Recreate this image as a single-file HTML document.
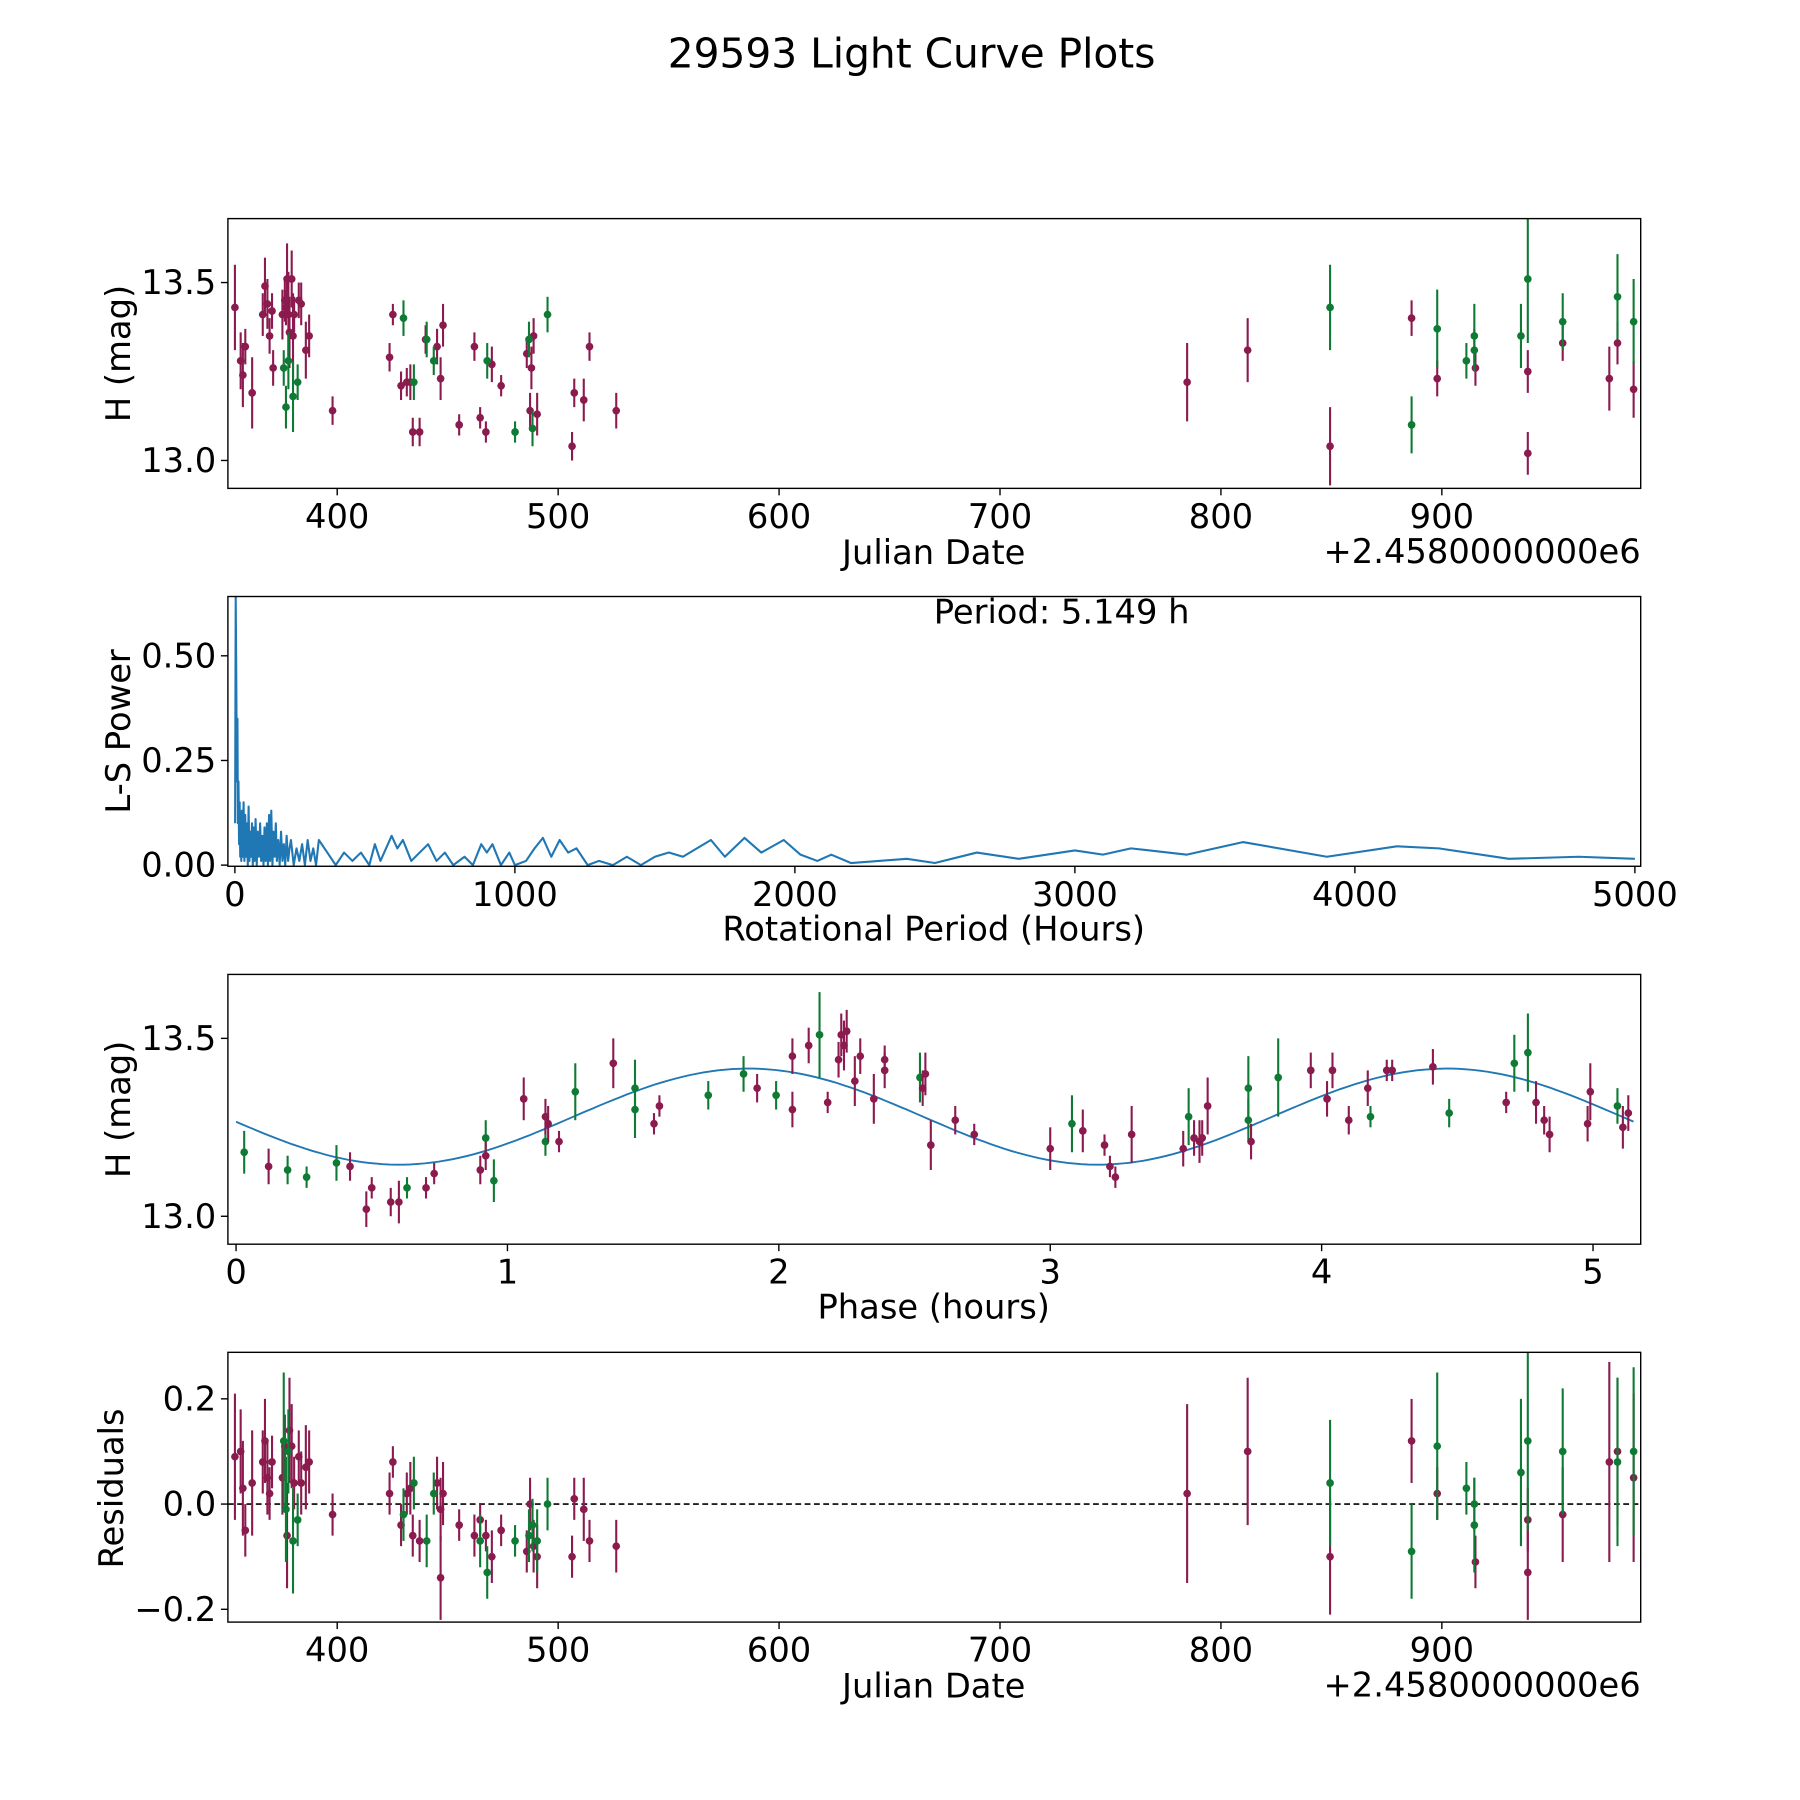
<!DOCTYPE html>
<html><head><meta charset="utf-8"><style>
html,body{margin:0;padding:0;background:#fff}
svg{display:block;font-family:"DejaVu Sans","Liberation Sans",sans-serif}
</style></head><body>
<svg id="fig" width="1800" height="1800" viewBox="0 0 1548 1548" xmlns="http://www.w3.org/2000/svg">
<rect width="1548" height="1548" fill="#fff"/>
<text x="784" y="58" font-size="35" text-anchor="middle">29593 Light Curve Plots</text>
</svg>
<script>
// ---------- Panel 1: light curve ----------
const lcDates=[353.7,356.3,357.3,358.4,361.5,366.3,367.3,368.4,369.4,370.5,371.0,375.2,376.3,376.8,377.3,377.9,378.4,379.4,380.0,380.5,382.6,383.7,385.8,387.3,397.9,
375.8,376.8,377.9,380.0,382.1,
423.7,425.2,428.9,431.5,433.1,434.2,437.3,440.0,445.2,446.8,447.9,455.2,462.1,464.7,467.3,470.0,474.2,485.8,487.3,487.9,488.9,490.5,506.3,507.3,511.6,514.2,526.3,
430.0,434.7,440.5,443.7,467.9,480.5,486.8,488.4,495.2,
784.7,812.1,849.4,886.3,897.9,915.2,938.9,938.9,954.7,975.8,979.5,986.8,
849.4,886.3,897.9,911.1,914.7,914.7,935.8,938.9,954.7,979.5,986.8];
const lcMags=[13.43,13.28,13.24,13.32,13.19,13.41,13.49,13.44,13.35,13.42,13.26,13.41,13.45,13.43,13.51,13.41,13.36,13.51,13.35,13.41,13.45,13.44,13.31,13.35,13.14,
13.26,13.15,13.28,13.18,13.22,
13.29,13.41,13.21,13.22,13.22,13.08,13.08,13.34,13.32,13.23,13.38,13.10,13.32,13.12,13.08,13.27,13.21,13.30,13.14,13.26,13.35,13.13,13.04,13.19,13.17,13.32,13.14,
13.40,13.22,13.34,13.28,13.28,13.08,13.34,13.09,13.41,
13.22,13.31,13.04,13.40,13.23,13.26,13.25,13.02,13.33,13.23,13.33,13.20,
13.43,13.10,13.37,13.28,13.31,13.35,13.35,13.51,13.39,13.46,13.39];
const lcErrs=[0.12,0.08,0.09,0.05,0.1,0.06,0.08,0.07,0.05,0.05,0.05,0.07,0.06,0.05,0.1,0.12,0.1,0.08,0.12,0.05,0.05,0.06,0.08,0.06,0.04,
0.05,0.06,0.08,0.1,0.05,
0.04,0.03,0.04,0.04,0.05,0.04,0.04,0.04,0.05,0.06,0.06,0.03,0.04,0.03,0.03,0.05,0.03,0.04,0.05,0.06,0.05,0.06,0.04,0.04,0.06,0.04,0.05,
0.05,0.05,0.05,0.04,0.05,0.03,0.05,0.05,0.05,
0.11,0.09,0.11,0.05,0.05,0.05,0.06,0.06,0.05,0.09,0.06,0.08,
0.12,0.08,0.11,0.05,0.06,0.09,0.09,0.18,0.08,0.12,0.12];
const lcColors=("p".repeat(25)+"g".repeat(5)+"p".repeat(27)+"g".repeat(9)+"p".repeat(12)+"g".repeat(11)).split("");
// ---------- Panel 2: periodogram ----------
const lsPeriods=[1,3,5,7,9,11,13,15,17,19,21,23,25,
28,31,34,37,40,43,46,49,52,55,58,61,64,67,70,
74,78,82,86,90,94,98,102,106,110,114,118,122,126,130,134,138,142,146,150,
155,160,165,170,175,180,185,190,195,200,
210,220,230,240,250,260,270,280,290,300,
330,360,390,420,450,480,500,520,560,580,600,630,660,690,720,750,780,820,850,880,900,920,950,980,1000,1040,1070,1100,1130,1160,1190,1220,1260,1300,1350,1400,1450,1500,1550,1600,1650,1700,1750,1820,1880,1960,2020,2080,2130,2200,2300,2400,2500,2650,2800,3000,3100,3200,3400,3600,3900,4150,4300,4550,4800,5000];
const lsPower=[0.1,0.64,0.45,0.2,0.35,0.1,0.2,0.05,0.15,0.02,0.1,0.01,0.13,
0.02,0.15,0.01,0.12,0.02,0.1,0.0,0.14,0.01,0.08,0.02,0.1,0.0,0.09,0.01,
0.11,0.0,0.08,0.02,0.1,0.01,0.07,0.0,0.09,0.01,0.1,0.0,0.12,0.01,0.13,0.0,0.08,0.02,0.1,0.01,
0.06,0.0,0.08,0.01,0.05,0.0,0.07,0.01,0.04,0.06,
0.0,0.04,0.01,0.05,0.0,0.06,0.01,0.04,0.0,0.06,
0.03,0.0,0.03,0.01,0.03,0.0,0.05,0.01,0.07,0.04,0.06,0.01,0.03,0.05,0.01,0.03,0.0,0.02,0.0,0.05,0.03,0.05,0.0,0.03,0.0,0.01,0.04,0.065,0.02,0.06,0.03,0.04,0.0,0.01,0.0,0.02,0.0,0.02,0.03,0.02,0.04,0.06,0.02,0.065,0.03,0.06,0.025,0.01,0.025,0.005,0.01,0.015,0.005,0.03,0.015,0.035,0.025,0.04,0.025,0.055,0.02,0.045,0.04,0.015,0.02,0.015];
const lsTicksX=[0,1000,2000,3000,4000,5000];
const lsTicksY=[0,0.25,0.5];
// ---------- Panel 3: phased ----------
const phPhase=[0.03,0.19,0.26,0.37,0.63,0.92,0.95,1.14,1.25,1.47,1.47,1.74,1.87,1.99,2.15,2.52,3.08,3.51,3.73,3.73,3.84,4.18,4.47,4.71,4.76,5.09,
0.12,0.42,0.48,0.50,0.57,0.60,0.70,0.73,0.90,0.92,1.06,1.14,1.15,1.19,1.39,1.54,1.56,1.92,2.05,2.05,2.11,2.18,2.22,2.23,2.24,2.25,2.28,2.30,2.35,2.39,2.39,2.53,2.54,2.56,2.65,2.72,3.00,3.12,3.20,3.22,3.24,3.30,3.49,3.53,3.55,3.56,3.58,3.74,3.96,4.02,4.04,4.10,4.17,4.24,4.26,4.41,4.68,4.79,4.82,4.84,4.98,4.99,5.11,5.13];
const phMags=[13.18,13.13,13.11,13.15,13.08,13.22,13.10,13.21,13.35,13.30,13.36,13.34,13.40,13.34,13.51,13.39,13.26,13.28,13.36,13.27,13.39,13.28,13.29,13.43,13.46,13.31,
13.14,13.14,13.02,13.08,13.04,13.04,13.08,13.12,13.13,13.17,13.33,13.28,13.26,13.21,13.43,13.26,13.31,13.36,13.45,13.30,13.48,13.32,13.44,13.51,13.48,13.52,13.38,13.45,13.33,13.44,13.41,13.36,13.40,13.20,13.27,13.23,13.19,13.24,13.20,13.14,13.11,13.23,13.19,13.22,13.21,13.22,13.31,13.21,13.41,13.33,13.41,13.27,13.36,13.41,13.41,13.42,13.32,13.32,13.27,13.23,13.26,13.35,13.25,13.29];
const phErrs=[0.06,0.04,0.03,0.05,0.03,0.05,0.06,0.04,0.08,0.08,0.08,0.04,0.05,0.04,0.12,0.07,0.08,0.08,0.09,0.06,0.11,0.03,0.04,0.08,0.11,0.05,
0.05,0.04,0.05,0.03,0.04,0.06,0.03,0.03,0.04,0.04,0.06,0.05,0.05,0.03,0.07,0.03,0.03,0.04,0.05,0.05,0.05,0.03,0.05,0.06,0.07,0.06,0.07,0.05,0.07,0.04,0.05,0.05,0.06,0.07,0.04,0.03,0.06,0.06,0.03,0.03,0.03,0.08,0.05,0.05,0.06,0.05,0.08,0.05,0.05,0.05,0.05,0.04,0.05,0.03,0.03,0.05,0.03,0.06,0.04,0.05,0.05,0.08,0.06,0.05];
const phColors=("g".repeat(26)+"p".repeat(64)).split("");
const fitMean=13.28, fitAmp=0.135, fitMinPhase=0.6, fitHalfPeriod=2.575;
// ---------- Panel 4: residuals ----------
const resDates=[353.7,356.3,357.3,358.4,361.5,366.3,367.3,368.4,369.4,370.5,375.2,376.3,377.3,378.4,379.4,380.5,382.6,383.7,385.8,387.3,397.9,
375.8,376.8,377.9,380.0,382.1,
423.7,425.2,428.9,431.5,433.1,434.2,437.3,445.2,446.8,447.9,455.2,462.1,464.7,467.3,470.0,474.2,485.8,487.3,488.9,490.5,506.3,507.3,511.6,514.2,526.3,446.8,
430.0,434.7,440.5,443.7,464.7,467.9,480.5,486.8,488.4,490.5,495.2,
784.7,812.1,849.4,886.3,897.9,915.2,938.9,938.9,954.7,975.8,979.5,986.8,
849.4,886.3,897.9,911.1,914.7,914.7,935.8,938.9,954.7,979.5,986.8];
const resVals=[0.09,0.10,0.03,-0.05,0.04,0.08,0.12,0.05,0.02,0.08,0.05,0.11,-0.06,0.14,0.11,0.04,0.09,0.04,0.07,0.08,-0.02,
0.12,-0.01,0.10,-0.07,-0.03,
0.02,0.08,-0.04,0.02,0.03,-0.06,-0.07,0.04,-0.01,0.02,-0.04,-0.06,-0.03,-0.06,-0.10,-0.05,-0.09,0.00,-0.08,-0.10,-0.10,0.01,-0.01,-0.07,-0.08,-0.14,
-0.02,0.04,-0.07,0.02,-0.07,-0.13,-0.07,-0.06,-0.04,-0.07,0.00,
0.02,0.10,-0.10,0.12,0.02,-0.11,-0.03,-0.13,-0.02,0.08,0.10,0.05,
0.04,-0.09,0.11,0.03,0.00,-0.04,0.06,0.12,0.10,0.08,0.10];
const resErrs=[0.12,0.08,0.09,0.05,0.1,0.06,0.08,0.07,0.05,0.05,0.07,0.06,0.1,0.1,0.08,0.05,0.05,0.06,0.08,0.06,0.04,
0.13,0.1,0.08,0.1,0.05,
0.04,0.03,0.04,0.04,0.05,0.04,0.04,0.05,0.06,0.06,0.03,0.04,0.03,0.03,0.05,0.03,0.04,0.05,0.05,0.06,0.04,0.04,0.06,0.04,0.05,0.08,
0.05,0.05,0.05,0.04,0.05,0.05,0.03,0.05,0.05,0.06,0.05,
0.17,0.14,0.11,0.08,0.05,0.05,0.06,0.09,0.09,0.19,0.14,0.16,
0.12,0.09,0.14,0.05,0.05,0.09,0.14,0.17,0.12,0.16,0.16];
const resColors=("p".repeat(21)+"g".repeat(5)+"p".repeat(26)+"g".repeat(11)+"p".repeat(12)+"g".repeat(11)).split("");
const jdTicks=[400,500,600,700,800,900];

const NS="http://www.w3.org/2000/svg";
const svg=document.getElementById("fig");
const COL={p:"#8b1a4e",g:"#0e7a33"};
const TF=29, LF=29;
function el(tag,attrs,parent){const e=document.createElementNS(NS,tag);for(const k in attrs)e.setAttribute(k,attrs[k]);(parent||svg).appendChild(e);return e;}
function lin(d0,d1,r0,r1){return v=>r0+(v-d0)*(r1-r0)/(d1-d0);}
function frame(name,x0,y0,x1,y1){const r=el("rect",{x:x0,y:y0,width:x1-x0,height:y1-y0,fill:"none",stroke:"#000","stroke-width":1.2});}
function xticks(name,vals,sx,yb,fmt){vals.forEach(v=>{const x=sx(v);el("line",{x1:x,x2:x,y1:yb,y2:yb+6,stroke:"#000","stroke-width":1.2});const t=el("text",{x:x,y:yb+34,"font-size":TF,"text-anchor":"middle"});t.textContent=fmt(v);});}
function yticks(name,vals,sy,xl,fmt){vals.forEach(v=>{const y=sy(v);el("line",{x1:xl-6,x2:xl,y1:y,y2:y,stroke:"#000","stroke-width":1.2});const t=el("text",{x:xl-10,y:y+10,"font-size":TF,"text-anchor":"end"});t.textContent=fmt(v);});}
function label(name,txt,x,y,rot){const t=el("text",{x:x,y:y,"font-size":LF,"text-anchor":"middle"});if(rot)t.setAttribute("transform",`rotate(-90 ${x} ${y})`);t.textContent=txt;}
function points(name,xs,ys,es,cs,sx,sy,clip){const g=el("g",{"clip-path":`url(#${clip})`});
 xs.forEach((xv,i)=>{const x=sx(xv),c=COL[cs[i]];el("line",{x1:x,x2:x,y1:sy(ys[i]-es[i]),y2:sy(ys[i]+es[i]),stroke:c,"stroke-width":1.8},g);const d=el("circle",{cx:x,cy:sy(ys[i]),r:3.3,fill:c},g);});}
function clip(id,x0,y0,x1,y1){const cp=el("clipPath",{id:id});el("rect",{x:x0,y:y0,width:x1-x0,height:y1-y0},cp);}
const jdFmt=v=>String(v);

// Panel 1
{const X0=196,X1=1411,Y0=188,Y1=420;const sx=lin(400,900,290,1240),sy=lin(13.0,13.5,396,243);
clip("c1",X0,Y0,X1,Y1);points("light-curve-points",lcDates,lcMags,lcErrs,lcColors,sx,sy,"c1");
frame("light-curve",X0,Y0,X1,Y1);xticks("light-curve",jdTicks,sx,Y1,jdFmt);yticks("light-curve",[13.0,13.5],sy,X0,v=>v.toFixed(1));
label("light-curve-x-axis-title","Julian Date",803,485);label("light-curve-y-axis-title","H (mag)",112,304,true);
const o=el("text",{x:1411,y:484,"font-size":TF,"text-anchor":"end"});o.textContent="+2.4580000000e6";}

// Panel 2
{const X0=196,X1=1411,Y0=513,Y1=745;const sx=lin(0,5000,202,1406),sy=lin(0,0.5,744,564);
clip("c2",X0,Y0,X1,Y1);const g=el("g",{"clip-path":"url(#c2)"});
const p=el("path",{d:lsPeriods.map((v,i)=>(i?"L":"M")+sx(v).toFixed(1)+" "+sy(lsPower[i]).toFixed(1)).join(""),fill:"none",stroke:"#1f77b4","stroke-width":1.8,"stroke-linejoin":"round"},g);

frame("periodogram",X0,Y0,X1,Y1);xticks("periodogram",lsTicksX,sx,Y1,v=>String(v));yticks("periodogram",lsTicksY,sy,X0,v=>v.toFixed(2));
label("periodogram-x-axis-title","Rotational Period (Hours)",803,809);label("periodogram-y-axis-title","L-S Power",112,629,true);
const t=el("text",{x:913,y:536,"font-size":LF,"text-anchor":"middle"});t.textContent="Period: 5.149 h";}

// Panel 3
{const X0=196,X1=1411,Y0=838,Y1=1070;const sx=lin(0,5,203,1370),sy=lin(13.0,13.5,1046,893);
clip("c3",X0,Y0,X1,Y1);
const fx=[];for(let i=0;i<=200;i++)fx.push(5.149*i/200);
const g=el("g",{"clip-path":"url(#c3)"});
const f=el("path",{d:fx.map((p,i)=>(i?"L":"M")+sx(p).toFixed(1)+" "+sy(fitMean-fitAmp*Math.cos(2*Math.PI*(p-fitMinPhase)/fitHalfPeriod)).toFixed(1)).join(""),fill:"none",stroke:"#1f77b4","stroke-width":1.6},g);

points("phased-points",phPhase,phMags,phErrs,phColors,sx,sy,"c3");
frame("phased",X0,Y0,X1,Y1);xticks("phased",[0,1,2,3,4,5],sx,Y1,v=>String(v));yticks("phased",[13.0,13.5],sy,X0,v=>v.toFixed(1));
label("phased-x-axis-title","Phase (hours)",803,1134);label("phased-y-axis-title","H (mag)",112,954,true);}

// Panel 4
{const X0=196,X1=1411,Y0=1163,Y1=1395;const sx=lin(400,900,290,1240),sy=lin(-0.2,0.2,1384,1203);
clip("c4",X0,Y0,X1,Y1);
const z=el("line",{x1:X0,x2:X1,y1:sy(0),y2:sy(0),stroke:"#000","stroke-width":1.4,"stroke-dasharray":"5,3"});
points("residual-points",resDates,resVals,resErrs,resColors,sx,sy,"c4");
frame("residuals",X0,Y0,X1,Y1);xticks("residuals",jdTicks,sx,Y1,jdFmt);yticks("residuals",[-0.2,0,0.2],sy,X0,v=>(v<0?"\u2212":"")+Math.abs(v).toFixed(1));
label("residuals-x-axis-title","Julian Date",803,1460);label("residuals-y-axis-title","Residuals",106,1280,true);
const o=el("text",{x:1411,y:1459,"font-size":TF,"text-anchor":"end"});o.textContent="+2.4580000000e6";}
</script>
</body></html>
